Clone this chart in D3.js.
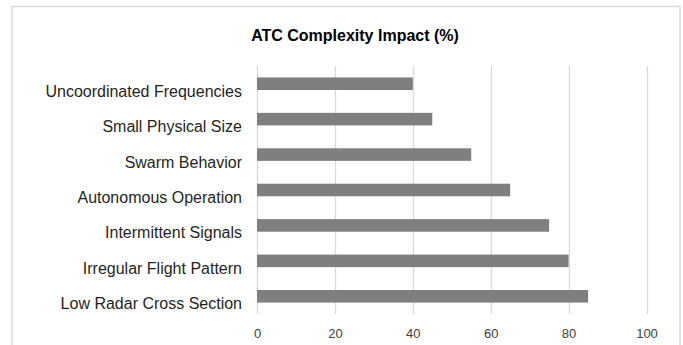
<!DOCTYPE html>
<html>
<head>
<meta charset="utf-8">
<script src="https://cdn.jsdelivr.net/npm/d3@7"></script>
<style>
  html, body { margin: 0; padding: 0; background: #fff; }
  svg { display: block; font-family: "Liberation Sans", Arial, sans-serif; }
</style>
</head>
<body>
<svg id="chart" width="683" height="345"></svg>
<script>
// Factors listed top to bottom, with their impact on ATC complexity (%)
const categories = [
  "Uncoordinated Frequencies",
  "Small Physical Size",
  "Swarm Behavior",
  "Autonomous Operation",
  "Intermittent Signals",
  "Irregular Flight Pattern",
  "Low Radar Cross Section"
];
const impactValues = [40, 45, 55, 65, 75, 80, 85];
const tickValues = [0, 20, 40, 60, 80, 100];
const chartTitle = "ATC Complexity Impact (%)";

const data = categories.map((c, i) => ({ name: c, value: impactValues[i] }));

const svg = d3.select("#chart");
const W = 683, H = 345;
const plot = { left: 257, right: 646.5, top: 66, bottom: 314 };

// Chart frame (bottom edge runs past the visible area)
svg.append("rect")
  .attr("x", 12).attr("y", 6.5)
  .attr("width", 668).attr("height", 360)
  .attr("fill", "#fff")
  .attr("stroke", "#d9d9d9")
  .attr("stroke-width", 1.5);

const x = d3.scaleLinear().domain([0, 100]).range([plot.left, plot.right]);
const y = d3.scaleBand()
  .domain(categories)
  .range([plot.top, plot.bottom])
  .paddingInner(0.645)
  .paddingOuter(0.3225);

// Vertical gridlines
svg.append("g")
  .selectAll("line")
  .data(tickValues)
  .join("line")
  .attr("x1", d => Math.round(x(d)) + 0.5)
  .attr("x2", d => Math.round(x(d)) + 0.5)
  .attr("y1", plot.top)
  .attr("y2", plot.bottom)
  .attr("stroke", "#d9d9d9")
  .attr("stroke-width", 1.3);

// Bars
svg.append("g")
  .selectAll("rect")
  .data(data)
  .join("rect")
  .attr("x", x(0))
  .attr("y", d => y(d.name))
  .attr("width", d => x(d.value) - x(0))
  .attr("height", y.bandwidth())
  .attr("fill", "#7f7f7f");

// Category labels
svg.append("g")
  .selectAll("text")
  .data(data)
  .join("text")
  .attr("x", 242)
  .attr("y", d => y(d.name) + y.bandwidth() / 2 + 13)
  .attr("text-anchor", "end")
  .attr("font-size", 16)
  .attr("fill", "#1f1f1f")
  .text(d => d.name);

// Value axis tick labels
const xAxis = d3.axisBottom(x).tickValues(tickValues).tickSize(0).tickPadding(0);
const ax = svg.append("g")
  .attr("transform", `translate(0, ${plot.bottom})`)
  .call(xAxis);
ax.select(".domain").remove();
ax.selectAll("text")
  .attr("y", 24)
  .attr("dy", 0)
  .attr("font-size", 13)
  .attr("font-family", "\"Liberation Sans\", Arial, sans-serif")
  .attr("fill", "#404040");

// Title
svg.append("text")
  .attr("x", 355)
  .attr("y", 41)
  .attr("text-anchor", "middle")
  .attr("font-size", 16)
  .attr("font-weight", "bold")
  .attr("fill", "#000")
  .text(chartTitle);
</script>
</body>
</html>
